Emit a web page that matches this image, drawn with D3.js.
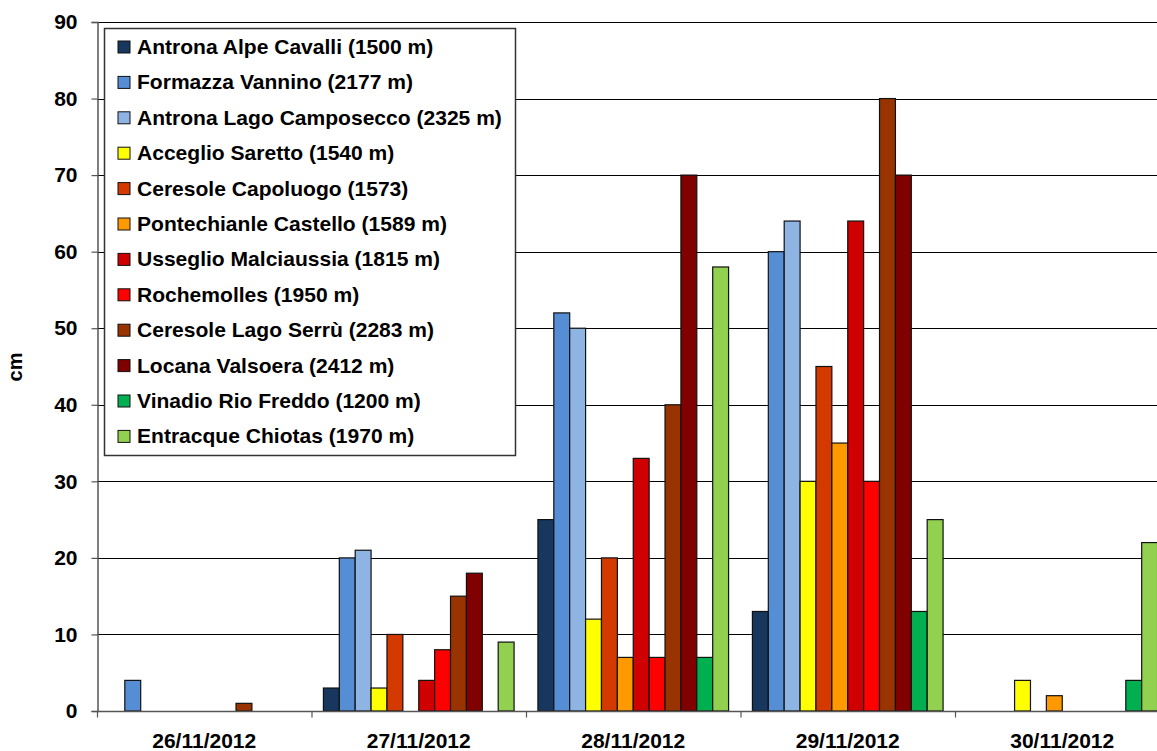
<!DOCTYPE html>
<html>
<head>
<meta charset="utf-8">
<script src="https://cdn.jsdelivr.net/npm/d3@7"></script>
<style>
  html, body { margin: 0; padding: 0; background: #fff; }
  svg text { font-family: "Liberation Sans", Arial, sans-serif; font-weight: bold; fill: #000; }
</style>
</head>
<body>
<svg id="chart" width="1157" height="751"></svg>
<script>
// Daily fresh snow (cm) at Piedmont stations, 26–30 November 2012
const days = ["26/11/2012", "27/11/2012", "28/11/2012", "29/11/2012", "30/11/2012"];
const stations = [
  "Antrona Alpe Cavalli (1500 m)",
  "Formazza Vannino (2177 m)",
  "Antrona Lago Camposecco (2325 m)",
  "Acceglio Saretto (1540 m)",
  "Ceresole Capoluogo (1573)",
  "Pontechianle Castello (1589 m)",
  "Usseglio Malciaussia (1815 m)",
  "Rochemolles (1950 m)",
  "Ceresole Lago Serrù (2283 m)",
  "Locana Valsoera (2412 m)",
  "Vinadio Rio Freddo (1200 m)",
  "Entracque Chiotas (1970 m)"
];
const colors = [
  "#17375E", "#558ED5", "#8EB4E3", "#FFFF00", "#D43A00", "#FF9900",
  "#D00000", "#FF0000", "#993300", "#800000", "#00B050", "#92D050"
];
// one array per station, values in day order
const antronaAlpeCavalli   = [0, 3, 25, 13, 0];
const formazzaVannino      = [4, 20, 52, 60, 0];
const antronaCamposecco    = [0, 21, 50, 64, 0];
const acceglioSaretto      = [0, 3, 12, 30, 4];
const ceresoleCapoluogo    = [0, 10, 20, 45, 0];
const pontechianleCastello = [0, 0, 7, 35, 2];
const usseglioMalciaussia  = [0, 4, 33, 64, 0];
const rochemolles          = [0, 8, 7, 30, 0];
const ceresoleSerru        = [1, 15, 40, 80, 0];
const locanaValsoera       = [0, 18, 70, 70, 0];
const vinadioRioFreddo     = [0, 0, 7, 13, 4];
const entracqueChiotas     = [0, 9, 58, 25, 22];
const yTicks = [0, 10, 20, 30, 40, 50, 60, 70, 80, 90];

const series = [
  antronaAlpeCavalli, formazzaVannino, antronaCamposecco, acceglioSaretto,
  ceresoleCapoluogo, pontechianleCastello, usseglioMalciaussia, rochemolles,
  ceresoleSerru, locanaValsoera, vinadioRioFreddo, entracqueChiotas
];

const svg = d3.select("#chart");
const plotLeft = 97, plotTop = 22, plotBottom = 711;
const groupW = 214.5;
const plotRight = plotLeft + groupW * days.length;

const x0 = d3.scaleBand().domain(days).range([plotLeft, plotRight]).paddingInner(0).paddingOuter(0);
const x1 = d3.scaleBand().domain(d3.range(stations.length)).range([0, x0.bandwidth()])
  .paddingInner(0).paddingOuter(0.75);
const y = d3.scaleLinear().domain([0, 90]).range([plotBottom, plotTop]);

// horizontal gridlines
svg.append("g").selectAll("line").data(yTicks.filter(d => d > 0)).join("line")
  .attr("x1", plotLeft).attr("x2", 1157)
  .attr("y1", d => Math.round(y(d)) + 0.5).attr("y2", d => Math.round(y(d)) + 0.5)
  .attr("stroke", "#000").attr("stroke-width", 1);

// bars
const groups = svg.append("g").selectAll("g").data(days).join("g")
  .attr("transform", d => `translate(${x0(d)},0)`);
groups.selectAll("rect")
  .data((d, i) => series.map((s, k) => ({ k, v: s[i] })).filter(e => e.v > 0))
  .join("rect")
  .attr("x", e => x1(e.k))
  .attr("width", x1.bandwidth())
  .attr("y", e => y(e.v))
  .attr("height", e => y(0) - y(e.v))
  .attr("fill", e => colors[e.k])
  .attr("stroke", "#111").attr("stroke-width", 1.2);

// y axis
const yAxis = d3.axisLeft(y).tickValues(yTicks).tickSize(6).tickPadding(14);
const gy = svg.append("g").attr("transform", `translate(${plotLeft + 0.5},0)`).call(yAxis);
gy.select(".domain").attr("stroke", "#555").attr("stroke-width", 1.5);
gy.selectAll(".tick line").attr("stroke", "#555").attr("stroke-width", 1.2);
gy.selectAll(".tick text").attr("font-size", 21).attr("font-family", "Liberation Sans, Arial, sans-serif")
  .attr("font-weight", "bold").attr("fill", "#000");

// x axis: ticks at category boundaries
const gx = svg.append("g").attr("transform", `translate(0,${plotBottom + 0.5})`);
gx.append("line").attr("x1", plotLeft).attr("x2", 1157).attr("stroke", "#555").attr("stroke-width", 1.5);
gx.selectAll("line.tk").data(days.map(d => x0(d)).concat([plotRight])).join("line")
  .attr("class", "tk")
  .attr("x1", d => d + 0.5).attr("x2", d => d + 0.5).attr("y1", 0).attr("y2", 6)
  .attr("stroke", "#555").attr("stroke-width", 1.2);
gx.selectAll("text").data(days).join("text")
  .attr("x", d => x0(d) + x0.bandwidth() / 2).attr("y", 36.5)
  .attr("text-anchor", "middle").attr("font-size", 21).text(d => d);

// y axis title
svg.append("text").attr("transform", "translate(22,367) rotate(-90)")
  .attr("text-anchor", "middle").attr("font-size", 20).text("cm");

// legend
const lg = svg.append("g").attr("transform", "translate(104,28)");
lg.append("rect").attr("x", 0.5).attr("y", 0.5).attr("width", 411).attr("height", 427)
  .attr("fill", "#fff").attr("stroke", "#333").attr("stroke-width", 1.5);
const rows = lg.selectAll("g.item").data(stations).join("g").attr("class", "item")
  .attr("transform", (d, i) => `translate(14,${19 + i * 35.4})`);
rows.append("rect").attr("x", 0).attr("y", -6).attr("width", 12).attr("height", 12)
  .attr("fill", (d, i) => colors[i]).attr("stroke", "#111").attr("stroke-width", 1);
rows.append("text").attr("transform", "translate(19,7) scale(1.08,1)")
  .attr("font-size", 19.5).text(d => d);
</script>
</body>
</html>
